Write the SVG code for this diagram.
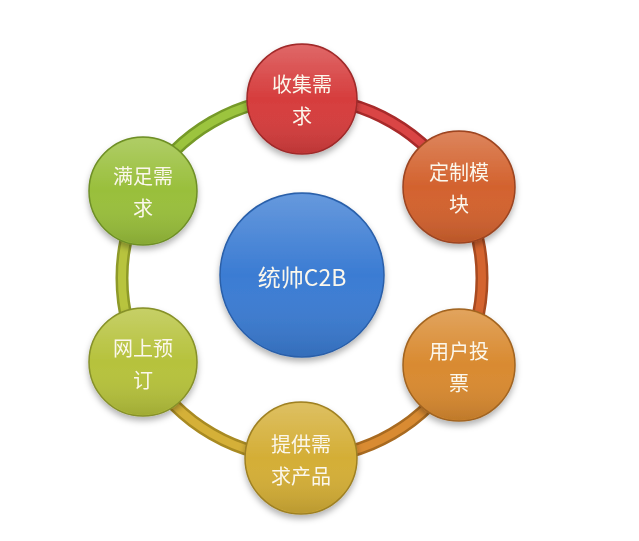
<svg xmlns="http://www.w3.org/2000/svg" width="639" height="541" viewBox="0 0 639 541">
<style>
.lbl{font-family:"Noto Sans CJK SC","Microsoft YaHei",sans-serif;font-size:20px;fill:#FBF7EC;text-anchor:middle;dominant-baseline:central}
.ctr{font-size:23px}
.edge{fill:none;stroke-width:13;stroke-linecap:butt}
.core{fill:none;stroke-width:8;stroke-linecap:butt}
.node{stroke-width:1.5}
</style>
<defs>
<linearGradient id="gloss" x1="0" y1="0" x2="0" y2="1">
<stop offset="0" stop-color="#fff" stop-opacity="0.22"/>
<stop offset="0.5" stop-color="#fff" stop-opacity="0"/>
<stop offset="1" stop-color="#000" stop-opacity="0.12"/>
</linearGradient>
<filter id="sh" x="-20%" y="-20%" width="140%" height="150%">
<feDropShadow dx="0" dy="4" stdDeviation="3" flood-color="#000" flood-opacity="0.3"/>
</filter>
</defs>
<rect width="639" height="541" fill="#fff"/>
<g id="connectors">
<path class="edge" stroke="#A82A2A" d="M302 98 A180 180 0 0 1 457.9 188"/>
<path class="core" stroke="#DA4545" d="M302 98 A180 180 0 0 1 457.9 188"/>
<path class="edge" stroke="#A84A20" d="M457.9 188 A180 180 0 0 1 457.9 368"/>
<path class="core" stroke="#D4642F" d="M457.9 188 A180 180 0 0 1 457.9 368"/>
<path class="edge" stroke="#A86A20" d="M457.9 368 A180 180 0 0 1 302 458"/>
<path class="core" stroke="#D98B32" d="M457.9 368 A180 180 0 0 1 302 458"/>
<path class="edge" stroke="#A88A22" d="M302 458 A180 180 0 0 1 146.1 368"/>
<path class="core" stroke="#D5B038" d="M302 458 A180 180 0 0 1 146.1 368"/>
<path class="edge" stroke="#8E9A28" d="M146.1 368 A180 180 0 0 1 146.1 188"/>
<path class="core" stroke="#B8C43E" d="M146.1 368 A180 180 0 0 1 146.1 188"/>
<path class="edge" stroke="#769A28" d="M146.1 188 A180 180 0 0 1 302 98"/>
<path class="core" stroke="#9CC43E" d="M146.1 188 A180 180 0 0 1 302 98"/>
</g>
<g id="center" filter="url(#sh)">
<circle class="node" cx="302" cy="275" r="82" fill="#3B7CD3" stroke="#2A5FA8"/>
<circle cx="302" cy="275" r="81" fill="url(#gloss)"/>
<text class="lbl ctr" x="302" y="276">统帅C2B</text>
</g>
<g id="n1" filter="url(#sh)">
<circle class="node" cx="302" cy="99" r="55" fill="#D63D3D" stroke="#9E2A2A"/>
<circle cx="302" cy="99" r="54" fill="url(#gloss)"/>
<text class="lbl" x="302" y="83">收集需</text>
<text class="lbl" x="302" y="115">求</text>
</g>
<g id="n2" filter="url(#sh)">
<circle class="node" cx="459" cy="187" r="56" fill="#D3622E" stroke="#9A4420"/>
<circle cx="459" cy="187" r="55" fill="url(#gloss)"/>
<text class="lbl" x="459" y="171">定制模</text>
<text class="lbl" x="459" y="203">块</text>
</g>
<g id="n3" filter="url(#sh)">
<circle class="node" cx="459" cy="365" r="56" fill="#D98A30" stroke="#A06420"/>
<circle cx="459" cy="365" r="55" fill="url(#gloss)"/>
<text class="lbl" x="459" y="350">用户投</text>
<text class="lbl" x="459" y="382">票</text>
</g>
<g id="n4" filter="url(#sh)">
<circle class="node" cx="301" cy="458" r="56" fill="#D4AE36" stroke="#9E8024"/>
<circle cx="301" cy="458" r="55" fill="url(#gloss)"/>
<text class="lbl" x="301" y="443">提供需</text>
<text class="lbl" x="301" y="475">求产品</text>
</g>
<g id="n5" filter="url(#sh)">
<circle class="node" cx="143" cy="362" r="54" fill="#B6C23C" stroke="#86902A"/>
<circle cx="143" cy="362" r="53" fill="url(#gloss)"/>
<text class="lbl" x="143" y="347">网上预</text>
<text class="lbl" x="143" y="379">订</text>
</g>
<g id="n6" filter="url(#sh)">
<circle class="node" cx="143" cy="191" r="54" fill="#99BF3B" stroke="#6E8E28"/>
<circle cx="143" cy="191" r="53" fill="url(#gloss)"/>
<text class="lbl" x="143" y="175">满足需</text>
<text class="lbl" x="143" y="207">求</text>
</g>
</svg>
